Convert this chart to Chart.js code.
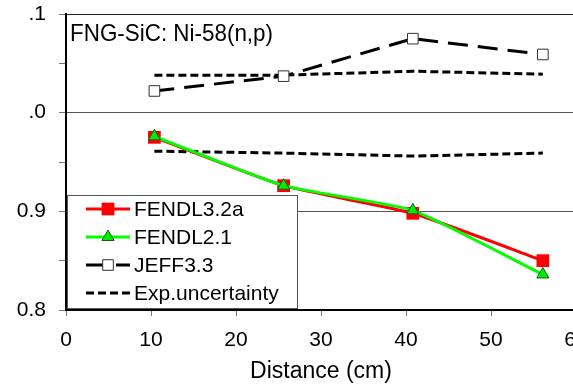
<!DOCTYPE html>
<html>
<head>
<meta charset="utf-8">
<script src="https://cdn.jsdelivr.net/npm/chart.js@4.4.1/dist/chart.umd.min.js"></script>
<style>
html,body{margin:0;padding:0;overflow:hidden;background:#fff;width:573px;height:387px}
#wrap{position:absolute;left:0;top:0;width:600px;height:387px}
</style>
</head>
<body>
<div id="wrap"><canvas id="c" width="600" height="387"></canvas></div>
<script>
// ---- data ----
const distances   = [10.4, 25.6, 40.8, 56.1];
const fendl32a    = [0.975, 0.926, 0.898, 0.850];
const fendl21     = [0.976, 0.926, 0.901, 0.836];
const jeff33      = [1.022, 1.037, 1.075, 1.059];
const expUpper    = [1.038, 1.038, 1.042, 1.039];
const expLower    = [0.961, 0.959, 0.956, 0.959];
const seriesNames = ["FENDL3.2a", "FENDL2.1", "JEFF3.3", "Exp.uncertainty"];
const yTickValues = [0.8, 0.9, 1.0, 1.1];
const yTickLabels = ["0.8", "0.9", ".0", ".1"];
const chartTitle  = "FNG-SiC: Ni-58(n,p)";
const xAxisTitle  = "Distance (cm)";

const FONT = "'Liberation Sans', Arial, Helvetica, sans-serif";
const pts = ys => distances.map((x, i) => ({x, y: ys[i]}));

const dsFendl32 = {label: seriesNames[0], data: pts(fendl32a), borderColor: '#ff0000', borderWidth: 3,
  pointStyle: 'rect', pointRadius: 9, pointBackgroundColor: '#ff0000', pointBorderColor: '#ff0000',
  pointBorderWidth: 0, tension: 0.15, order: 3};
const dsFendl21 = {label: seriesNames[1], data: pts(fendl21), borderColor: '#00ff00', borderWidth: 3,
  pointStyle: 'triangle', pointRadius: 7, pointBackgroundColor: '#00ee00', pointBorderColor: '#225522',
  pointBorderWidth: 1, tension: 0.15, order: 2};
const dsJeff = {label: seriesNames[2], data: pts(jeff33), borderColor: '#000000', borderWidth: 3,
  borderDash: [20, 10], pointStyle: 'rect', pointRadius: 7.5, pointBackgroundColor: '#ffffff',
  pointBorderColor: '#333333', pointBorderWidth: 1, tension: 0, order: 1};
const dsExpU = {label: seriesNames[3], data: pts(expUpper), borderColor: '#000000', borderWidth: 3,
  borderDash: [8, 4], pointRadius: 0, tension: 0, order: 4};
const dsExpL = {label: seriesNames[3], data: pts(expLower), borderColor: '#000000', borderWidth: 3,
  borderDash: [8, 4], pointRadius: 0, tension: 0, order: 5};

const isMajor = v => yTickValues.some(t => Math.abs(t - v) < 1e-6);

const overlay = {
  id: 'overlay',
  afterDatasetsDraw(chart) {
    const ctx = chart.ctx, a = chart.chartArea;
    ctx.save();
    // title inside plot (slightly condensed like the reference)
    ctx.fillStyle = '#000';
    ctx.font = `24px ${FONT}`;
    ctx.textAlign = 'left';
    ctx.textBaseline = 'alphabetic';
    const w = ctx.measureText(chartTitle).width;
    ctx.save();
    ctx.translate(a.left + 4, a.top + 27);
    ctx.scale(203 / w, 1);
    ctx.fillText(chartTitle, 0, 0);
    ctx.restore();
    // legend box
    const bx = 67.5, by = 195.5, bw = 230, bh = 113;
    ctx.fillStyle = '#fff';
    ctx.fillRect(bx, by, bw, bh);
    ctx.strokeStyle = '#555';
    ctx.lineWidth = 1;
    ctx.strokeRect(bx, by, bw, bh);
    const items = [dsFendl32, dsFendl21, dsJeff, dsExpU];
    items.forEach((d, i) => {
      const cy = 209 + i * 28;
      ctx.save();
      ctx.strokeStyle = d.borderColor;
      ctx.lineWidth = 3;
      ctx.setLineDash(d.borderDash || []);
      ctx.beginPath();
      ctx.moveTo(86, cy); ctx.lineTo(130, cy);
      ctx.stroke();
      ctx.restore();
      if (d.pointRadius > 0) {
        ctx.save();
        ctx.fillStyle = d.pointBackgroundColor;
        ctx.strokeStyle = d.pointBorderColor;
        ctx.lineWidth = d.pointBorderWidth;
        ctx.setLineDash([]);
        ctx.beginPath();
        if (d.pointStyle === 'rect') {
          const s = Math.SQRT1_2 * d.pointRadius;
          ctx.rect(108 - s, cy - s, 2 * s, 2 * s);
        } else {
          const r = d.pointRadius;
          let rad = 0;
          ctx.moveTo(108 + Math.sin(rad) * r, cy - Math.cos(rad) * r);
          rad += 2 * Math.PI / 3;
          ctx.lineTo(108 + Math.sin(rad) * r, cy - Math.cos(rad) * r);
          rad += 2 * Math.PI / 3;
          ctx.lineTo(108 + Math.sin(rad) * r, cy - Math.cos(rad) * r);
          ctx.closePath();
        }
        ctx.fill();
        if (d.pointBorderWidth > 0) ctx.stroke();
        ctx.restore();
      }
      ctx.fillStyle = '#000';
      ctx.font = `21px ${FONT}`;
      ctx.textAlign = 'left';
      ctx.textBaseline = 'alphabetic';
      ctx.fillText(d.label, 134, cy + 7);
    });
    ctx.restore();
  }
};

new Chart(document.getElementById('c'), {
  type: 'line',
  data: {datasets: [dsFendl32, dsFendl21, dsJeff, dsExpU, dsExpL]},
  options: {
    responsive: false,
    animation: false,
    events: [],
    layout: {padding: {top: 14, right: 24, left: 0, bottom: 0}},
    plugins: {legend: {display: false}, tooltip: {enabled: false}, title: {display: false}},
    scales: {
      x: {
        type: 'linear', min: 0, max: 60,
        afterFit: s => { s.height = 77; s.paddingLeft = 0; s.paddingRight = 0; },
        ticks: {stepSize: 10, color: '#000', font: {family: FONT, size: 21}, padding: 12, maxRotation: 0},
        grid: {drawOnChartArea: false, tickLength: 6, tickColor: '#777', tickWidth: 1},
        border: {color: '#000', width: 2},
        title: {display: true, text: xAxisTitle, color: '#000', font: {family: FONT, size: 23}, padding: {top: 0, bottom: 2}}
      },
      y: {
        type: 'linear', min: 0.8, max: 1.1,
        afterFit: s => { s.width = 66; s.paddingTop = 0; s.paddingBottom = 0; },
        ticks: {
          stepSize: 0.05, autoSkip: false, color: '#000', font: {family: FONT, size: 21}, padding: 13,
          callback: v => {
            const i = yTickValues.findIndex(t => Math.abs(t - v) < 1e-6);
            return i >= 0 ? yTickLabels[i] : '';
          }
        },
        grid: {
          tickLength: 7, tickColor: '#777', tickWidth: 1,
          color: c => {
            const v = c.tick ? c.tick.value : null;
            if (v === null) return 'rgba(0,0,0,0)';
            if (Math.abs(v - 1.1) < 1e-6) return '#222';
            if (isMajor(v)) return '#555';
            return 'rgba(0,0,0,0)';
          },
          lineWidth: 1
        },
        border: {color: '#000', width: 2}
      }
    }
  },
  plugins: [overlay]
});
</script>
</body>
</html>
